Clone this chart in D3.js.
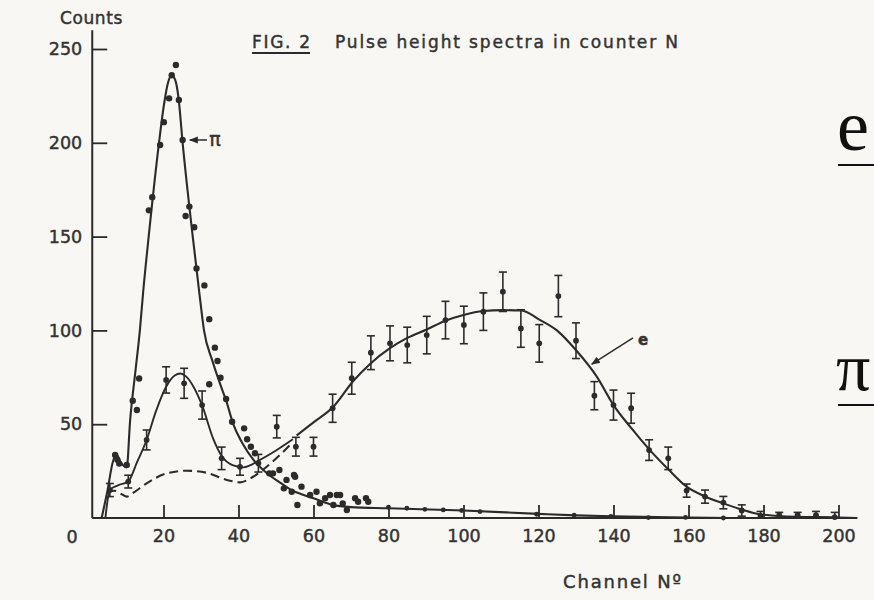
<!DOCTYPE html>
<html>
<head>
<meta charset="utf-8">
<script src="https://d3js.org/d3.v7.min.js"></script>
<style>
  body { margin: 0; background: #f9f7f4; }
  svg { display: block; }
</style>
</head>
<body>
<div id="fig2"></div>
<script>

// pion spectrum: individual channel counts (dots)
var pionPoints = [
    [7.1, 33.6], [7.7, 31], [8.2, 29], [10.2, 28.3], [11.8, 62.5], [12.9, 57.6], [13.5, 74.4],
    [16.1, 164], [17.0, 171], [19.1, 198.8], [20.1, 211], [21.5, 223.7], [22.2, 236], [23.3, 241.5],
    [24.1, 222.8], [25.1, 201.5], [25.9, 161], [26.9, 166], [28.2, 155], [28.8, 133], [30.9, 124],
    [32.2, 106], [32.2, 71.3], [33.7, 90.8], [34.4, 83.7], [35.2, 74.8], [36.7, 63.4], [38.3, 51.3],
    [41.5, 47.8], [42.3, 42], [43.3, 38], [44.4, 34.5], [48.2, 23.8], [49.2, 23.8], [50.9, 25.6],
    [52.1, 15.8], [52.8, 20.3], [54.2, 14], [54.8, 22.9], [55.1, 22], [55.7, 6.9], [56.8, 16.7],
    [59.1, 12.3], [60.8, 14], [61.7, 7.8], [63.1, 10.5], [64.4, 12.3], [65.3, 6.9], [66.2, 12.3],
    [67.1, 12.3], [67.8, 7.8], [68.9, 4.3], [71.1, 10.5], [71.9, 8.7], [74, 10.5], [74.6, 8.7]
];
// pion tail, averaged channels (small dots)
var pionTail = [
    [80, 5.8], [84.9, 5.2], [89.7, 4.6], [94.6, 4.3], [99.5, 4], [104.4, 3.4], [119.5, 2],
    [129.5, 1.5], [139.3, 0.8], [149.3, 0.2], [159.2, 0.3], [169.3, 0]
];
// pion fitted curve
var pionCurve = [
    [3.5, 0], [5, 14], [6.5, 30], [7.5, 34], [8.5, 30], [10.2, 27], [11.1, 52], [12.5, 78],
    [13.7, 100], [14.6, 121], [16.1, 151], [18.8, 200], [20.1, 220], [21.2, 232], [22.2, 236],
    [23.2, 233], [24, 224], [25.1, 200], [27.8, 150], [29.5, 121], [30.8, 100], [33, 84], [35, 72],
    [36.8, 62], [38.6, 50], [41, 40], [44, 31], [47.5, 24], [51, 19], [54, 15], [57, 12.5],
    [60, 10.5], [65, 7], [70, 5.8], [80, 5.2], [100, 4], [120, 2.2], [130, 1.4], [140, 0.9],
    [160, 0.3], [172, 0]
];

// low channel spectrum with errors [channel, counts, error]
var midPoints = [
    [5.7, 14.9, 3.5], [10.6, 19.4, 3.4], [15.5, 41.6, 5.3], [20.7, 73.6, 7], [25.5, 71.8, 8],
    [30.3, 60.2, 7.5], [35.5, 31.8, 6], [40.4, 27.3, 4.5], [45.3, 29.2, 4.7]
];
var midCurve = [
    [4.5, 0], [5.7, 15], [8, 17.5], [10.6, 19.5], [13, 30], [15.5, 41.6], [18, 57], [20.7, 70],
    [23, 76], [24.5, 77], [26, 75.5], [28, 70], [30.3, 60], [33.3, 42], [35.5, 33], [38.6, 28],
    [41.3, 27], [43, 28], [45.3, 30.5], [50, 36], [54.5, 42]
];
// dashed curve
var dashCurve = [
    [5, 14], [7, 14.5], [9, 12.5], [10.2, 11.4], [12, 13.5], [15.5, 18.5], [20.9, 23.8],
    [26.2, 25.2], [31.5, 24.1], [36.9, 20.3], [40.4, 19], [43.9, 22], [47.5, 27.3], [51, 33.5],
    [54, 39.5]
];

// electron spectrum with errors [channel, counts, error]
var elecPoints = [
    [50.2, 48.7, 6], [55.3, 38, 5], [60, 38, 5], [65.1, 58.5, 7.5], [70.2, 74.5, 8.5],
    [75.3, 88.1, 9], [80.4, 93.1, 9.3], [85, 92.2, 9.5], [90.2, 97.5, 10], [95.2, 105.5, 10],
    [100.1, 102.9, 10], [105.3, 110, 10], [110.5, 120.6, 10.5], [115.3, 101, 10], [120.2, 93.1, 10],
    [125.3, 118.3, 11], [130, 94.5, 9.5], [134.9, 65.2, 7.5], [140, 60.2, 8], [144.7, 58.5, 8],
    [149.5, 36.2, 5.5], [154.6, 31.8, 6], [159.5, 14.6, 3.5], [164.4, 11.4, 3.5], [169.3, 8.2, 3.3],
    [174.2, 4, 3], [179.2, 1, 2.5], [184.2, 1.5, 1.5], [189.1, 1.5, 1.5], [194, 1.5, 2], [199, 0.5, 2.5]
];
var elecCurve = [
    [55.5, 44], [60, 51], [65.3, 59.3], [70.6, 73], [75, 82], [80.4, 90.5], [85, 96], [90.2, 100.5],
    [95, 105], [100, 108.2], [105.3, 110.3], [110.6, 110.8], [115.5, 110.6], [120, 106], [124.9, 100],
    [130.2, 89], [135.5, 75.5], [140, 60.2], [144.7, 48], [149.7, 36.2], [154.6, 26], [159.5, 16.7],
    [164.4, 11.5], [169.3, 7.8], [174.2, 4.5], [179, 2], [188.8, 0.6], [200, 0.3], [205, 0]
];

var yTicks = [50, 100, 150, 200, 250];
var xTicks = [20, 40, 60, 80, 100, 120, 140, 160, 180, 200];

var ink = "#2b2b2b";
var textInk = "#333";
var font = "DejaVu Sans, sans-serif";

var W = 874, H = 600;

var svg = d3.select("#fig2")
    .append("svg")
    .attr("width", W)
    .attr("height", H)
    .style("background", "#f9f7f4");

var x = d3.scaleLinear().domain([0, 200]).range([88.5, 838.5]);
var y = d3.scaleLinear().domain([0, 250]).range([518, 49]);

// hand lettering is a bit heavier than the font
function lettering(sel, size) {
    sel.attr("fill", textInk)
        .attr("stroke", textInk)
        .attr("stroke-width", 0.45)
        .style("font-family", font)
        .style("font-size", size + "px");
}

// Y axis, ticks pointing inwards
var yAxis = svg.append("g")
    .attr("transform", "translate(" + x(1) + ",0)")
    .call(d3.axisLeft(y).tickValues(yTicks).tickSize(-15).tickSizeOuter(0).tickPadding(10));
yAxis.select(".domain").remove();
yAxis.append("line")
    .attr("y1", y(0)).attr("y2", y(260))
    .attr("stroke", ink).attr("stroke-width", 2);

// X axis
var xAxis = svg.append("g")
    .attr("transform", "translate(0," + y(0) + ")")
    .call(d3.axisBottom(x).tickValues(xTicks).tickSize(-13).tickSizeOuter(0).tickPadding(12));
xAxis.select(".domain").remove();
xAxis.append("line")
    .attr("x1", x(1)).attr("x2", x(205))
    .attr("stroke", ink).attr("stroke-width", 2);

svg.selectAll(".tick line").attr("stroke", ink).attr("stroke-width", 1.8);
svg.selectAll(".tick text").call(lettering, 17.5);

// origin label
svg.append("text")
    .attr("x", 72).attr("y", 543)
    .attr("text-anchor", "middle")
    .call(lettering, 17.5)
    .text("0");

// axis titles
svg.append("text")
    .attr("x", 60).attr("y", 24)
    .call(lettering, 17)
    .style("letter-spacing", "0.6px")
    .text("Counts");

svg.append("text")
    .attr("x", 563).attr("y", 588)
    .call(lettering, 18)
    .attr("textLength", 118)
    .attr("lengthAdjust", "spacing")
    .text("Channel Nº");

// figure title
svg.append("text")
    .attr("x", 252).attr("y", 48)
    .call(lettering, 17)
    .attr("textLength", 58)
    .attr("lengthAdjust", "spacing")
    .text("FIG. 2");
svg.append("line")
    .attr("x1", 252).attr("x2", 310)
    .attr("y1", 53).attr("y2", 53)
    .attr("stroke", ink).attr("stroke-width", 2);
svg.append("text")
    .attr("x", 335).attr("y", 48)
    .call(lettering, 17)
    .attr("textLength", 343)
    .attr("lengthAdjust", "spacing")
    .text("Pulse height spectra in counter N");

var line = d3.line()
    .x(function (d) { return x(d[0]); })
    .y(function (d) { return y(d[1]); })
    .curve(d3.curveMonotoneX);

// curves
svg.append("path").datum(pionCurve)
    .attr("d", line).attr("fill", "none")
    .attr("stroke", ink).attr("stroke-width", 2.1);
svg.append("path").datum(midCurve)
    .attr("d", line).attr("fill", "none")
    .attr("stroke", ink).attr("stroke-width", 1.9);
svg.append("path").datum(dashCurve)
    .attr("d", line).attr("fill", "none")
    .attr("stroke", ink).attr("stroke-width", 2.1)
    .attr("stroke-dasharray", "9,5");
svg.append("path").datum(elecCurve)
    .attr("d", line).attr("fill", "none")
    .attr("stroke", ink).attr("stroke-width", 2.1);

// error bars
function errorBars(data) {
    var g = svg.append("g")
        .attr("stroke", ink)
        .attr("stroke-width", 1.6);
    var bars = g.selectAll("g")
        .data(data)
        .enter()
        .append("g");
    bars.append("line")
        .attr("x1", function (d) { return x(d[0]); })
        .attr("x2", function (d) { return x(d[0]); })
        .attr("y1", function (d) { return y(d[1] + d[2]); })
        .attr("y2", function (d) { return y(Math.max(d[1] - d[2], 0)); });
    bars.append("line")
        .attr("x1", function (d) { return x(d[0]) - 4; })
        .attr("x2", function (d) { return x(d[0]) + 4; })
        .attr("y1", function (d) { return y(d[1] + d[2]); })
        .attr("y2", function (d) { return y(d[1] + d[2]); });
    bars.append("line")
        .attr("x1", function (d) { return x(d[0]) - 4; })
        .attr("x2", function (d) { return x(d[0]) + 4; })
        .attr("y1", function (d) { return y(Math.max(d[1] - d[2], 0)); })
        .attr("y2", function (d) { return y(Math.max(d[1] - d[2], 0)); });
    g.selectAll("circle")
        .data(data)
        .enter()
        .append("circle")
        .attr("cx", function (d) { return x(d[0]); })
        .attr("cy", function (d) { return y(d[1]); })
        .attr("r", 2.9)
        .attr("stroke", "none")
        .attr("fill", ink);
}
errorBars(midPoints);
errorBars(elecPoints);

// pion dots
svg.append("g").selectAll("circle")
    .data(pionPoints)
    .enter()
    .append("circle")
    .attr("cx", function (d) { return x(d[0]); })
    .attr("cy", function (d) { return y(d[1]); })
    .attr("r", 3.2)
    .attr("fill", ink);
svg.append("g").selectAll("circle")
    .data(pionTail)
    .enter()
    .append("circle")
    .attr("cx", function (d) { return x(d[0]); })
    .attr("cy", function (d) { return y(d[1]); })
    .attr("r", 2.4)
    .attr("fill", ink);

// arrow head
svg.append("defs").append("marker")
    .attr("id", "head")
    .attr("viewBox", "0 0 10 10")
    .attr("refX", 9).attr("refY", 5)
    .attr("markerWidth", 9).attr("markerHeight", 9)
    .attr("markerUnits", "userSpaceOnUse")
    .attr("orient", "auto")
    .append("path")
    .attr("d", "M0,1 L10,5 L0,9 Z")
    .attr("fill", ink);

// pion label
svg.append("line")
    .attr("x1", x(31.6)).attr("y1", y(201.5))
    .attr("x2", x(27)).attr("y2", y(201.5))
    .attr("stroke", ink).attr("stroke-width", 1.5)
    .attr("marker-end", "url(#head)");
svg.append("text")
    .attr("x", x(32.2)).attr("y", y(201.5) + 6)
    .call(lettering, 19)
    .text("π");

// electron label
svg.append("line")
    .attr("x1", x(145.2)).attr("y1", y(96))
    .attr("x2", x(134.2)).attr("y2", y(82))
    .attr("stroke", ink).attr("stroke-width", 1.5)
    .attr("marker-end", "url(#head)");
svg.append("text")
    .attr("x", x(146.5)).attr("y", y(95) + 5)
    .call(lettering, 15)
    .style("font-weight", "bold")
    .text("e");

// large side symbols
svg.append("text")
    .attr("x", 837).attr("y", 150)
    .attr("fill", "#111")
    .style("font-family", "Liberation Serif, serif")
    .style("font-size", "72px")
    .text("e");
svg.append("line")
    .attr("x1", 838).attr("x2", 874)
    .attr("y1", 165).attr("y2", 165)
    .attr("stroke", "#111").attr("stroke-width", 2);
svg.append("text")
    .attr("x", 836).attr("y", 390)
    .attr("fill", "#111")
    .style("font-family", "Liberation Serif, serif")
    .style("font-size", "68px")
    .text("π");
svg.append("line")
    .attr("x1", 838).attr("x2", 874)
    .attr("y1", 405).attr("y2", 405)
    .attr("stroke", "#111").attr("stroke-width", 2);

</script>
</body>
</html>
